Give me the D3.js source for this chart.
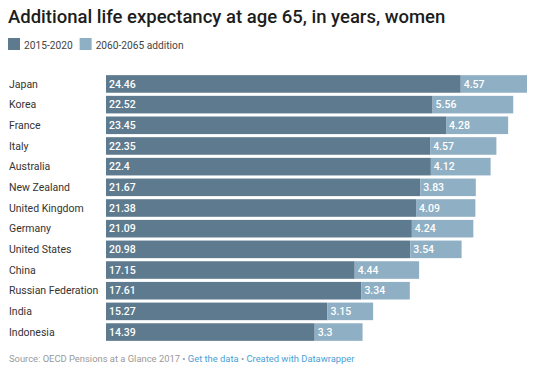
<!DOCTYPE html>
<html>
<head>
<meta charset="utf-8">
<script src="https://cdn.jsdelivr.net/npm/d3@7"></script>
<style>
  body { margin: 0; background: #fff; font-family: Roboto, "Noto Sans", sans-serif; }
  svg text { font-family: Roboto, "Noto Sans", sans-serif; }
</style>
</head>
<body>
<div id="chart"></div>
<script>
var countries = ['Japan', 'Korea', 'France', 'Italy', 'Australia', 'New Zealand', 'United Kingdom',
    'Germany', 'United States', 'China', 'Russian Federation', 'India', 'Indonesia'];
var base = [24.46, 22.52, 23.45, 22.35, 22.4, 21.67, 21.38, 21.09, 20.98, 17.15, 17.61, 15.27, 14.39];
var addition = [4.57, 5.56, 4.28, 4.57, 4.12, 3.83, 4.09, 4.24, 3.54, 4.44, 3.34, 3.15, 3.3];
var seriesNames = ['2015-2020', '2060-2065 addition'];
var colors = ['#5d7a8e', '#8fafc4'];

(function() {
    var width = 535, height = 373,
        plotLeft = 106, plotRight = 527, plotTop = 75, plotBottom = 341;

    var svg = d3.select('#chart').append('svg')
        .attr('width', width)
        .attr('height', height);

    svg.append('text')
        .attr('x', 8).attr('y', 23)
        .attr('font-size', 18.5)
        .attr('font-weight', 500)
        .attr('fill', '#1d1d1d')
        .text('Additional life expectancy at age 65, in years, women');

    // legend
    var lx = 8;
    seriesNames.forEach(function(name, i) {
        svg.append('rect')
            .attr('x', lx).attr('y', 38)
            .attr('width', 12).attr('height', 12)
            .attr('fill', colors[i]);
        var t = svg.append('text')
            .attr('x', lx + 16).attr('y', 49)
            .attr('font-size', 10.2)
            .attr('fill', '#444')
            .text(name);
        lx += 16 + t.node().getComputedTextLength() + 7;
    });

    var data = countries.map(function(c, i) {
        return {country: c, base: base[i], addition: addition[i]};
    });

    var x = d3.scaleLinear()
        .domain([0, d3.max(data, function(d) { return d.base + d.addition; })])
        .range([plotLeft, plotRight]);

    var y = d3.scaleBand()
        .domain(countries)
        .range([plotTop - 1.5, plotBottom + 1.5])
        .paddingInner(0.15)
        .paddingOuter(0.08);

    var rows = svg.selectAll('.row')
        .data(data)
        .enter()
        .append('g')
        .attr('class', 'row')
        .attr('transform', function(d) { return 'translate(0,' + y(d.country) + ')'; });

    rows.append('text')
        .attr('x', 9)
        .attr('y', y.bandwidth() / 2)
        .attr('dy', '0.35em')
        .attr('font-size', 10.5)
        .attr('fill', '#333')
        .text(function(d) { return d.country; });

    rows.append('rect')
        .attr('x', x(0))
        .attr('width', function(d) { return x(d.base) - x(0); })
        .attr('height', y.bandwidth())
        .attr('fill', colors[0]);

    rows.append('rect')
        .attr('x', function(d) { return x(d.base); })
        .attr('width', function(d) { return x(d.base + d.addition) - x(d.base); })
        .attr('height', y.bandwidth())
        .attr('fill', colors[1]);

    rows.append('text')
        .attr('x', x(0) + 3)
        .attr('y', y.bandwidth() / 2)
        .attr('dy', '0.36em')
        .attr('font-size', 10.5)
        .attr('font-weight', 500)
        .attr('fill', '#fff')
        .text(function(d) { return d.base; });

    rows.append('text')
        .attr('x', function(d) { return x(d.base) + 3; })
        .attr('y', y.bandwidth() / 2)
        .attr('dy', '0.36em')
        .attr('font-size', 10.5)
        .attr('font-weight', 500)
        .attr('fill', '#fff')
        .text(function(d) { return d.addition; });

    // footer
    var foot = svg.append('text')
        .attr('x', 9).attr('y', 362)
        .attr('font-size', 9.4)
        .attr('fill', '#999');
    foot.append('tspan').text('Source: OECD Pensions at a Glance 2017 \u2022 ');
    foot.append('tspan').attr('fill', '#4a9fd5').text('Get the data');
    foot.append('tspan').text(' \u2022 ');
    foot.append('tspan').attr('fill', '#4a9fd5').text('Created with Datawrapper');
})();
</script>
</body>
</html>
